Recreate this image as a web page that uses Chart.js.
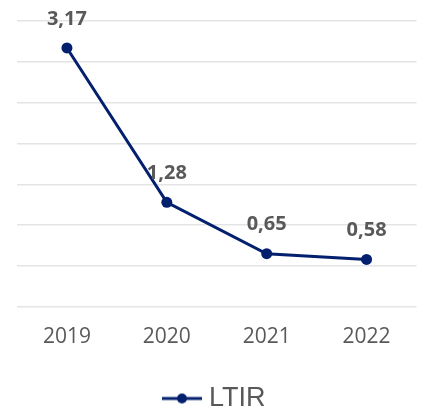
<!DOCTYPE html>
<html>
<head>
<meta charset="utf-8">
<script src="https://cdn.jsdelivr.net/npm/chart.js@4"></script>
<style>
  html, body { margin: 0; padding: 0; background: #ffffff; }
  #wrap { width: 422px; height: 408px; }
</style>
</head>
<body>
<div id="wrap"><canvas id="c" width="422" height="408"></canvas></div>
<script>
const years = ['2019', '2020', '2021', '2022'];
const ltir = [3.17, 1.28, 0.65, 0.58];
const seriesName = 'LTIR';

const navy = '#03206e';
const grey = '#595959';

// legend marker: short line with a dot in the middle
function legendMarker() {
  const cv = document.createElement('canvas');
  cv.width = 40; cv.height = 12;
  const g = cv.getContext('2d');
  g.strokeStyle = navy; g.lineWidth = 3;
  g.beginPath(); g.moveTo(0, 6); g.lineTo(40, 6); g.stroke();
  g.fillStyle = navy;
  g.beginPath(); g.arc(20, 6, 5, 0, Math.PI * 2); g.fill();
  return cv;
}

// value labels above each point, decimal comma
const valueLabels = {
  id: 'valueLabels',
  afterDatasetsDraw(chart) {
    const ctx = chart.ctx;
    const meta = chart.getDatasetMeta(0);
    ctx.save();
    ctx.font = 'bold 20px "Open Sans"';
    ctx.fillStyle = grey;
    ctx.textAlign = 'center';
    ctx.textBaseline = 'middle';
    meta.data.forEach((pt, i) => {
      const txt = ltir[i].toFixed(2).replace('.', ',');
      ctx.fillText(txt, pt.x, pt.y - 29);
    });
    ctx.restore();
  }
};

new Chart(document.getElementById('c'), {
  type: 'line',
  data: {
    labels: years,
    datasets: [{
      label: seriesName,
      data: ltir,
      borderColor: navy,
      backgroundColor: navy,
      borderWidth: 3,
      pointRadius: 5.5,
      pointHoverRadius: 5.5,
      pointBackgroundColor: navy,
      pointBorderWidth: 0,
      tension: 0,
      pointStyle: 'circle'
    }]
  },
  options: {
    responsive: false,
    animation: false,
    layout: { padding: { left: 17, right: 5, top: 21, bottom: -14 } },
    scales: {
      x: {
        offset: true,
        grid: { display: false },
        border: { display: false },
        ticks: {
          color: grey,
          font: { family: '"Open Sans"', size: 21 },
          padding: 10
        }
      },
      y: {
        min: 0,
        max: 3.5,
        ticks: { display: false, stepSize: 0.5 },
        border: { display: false },
        grid: { color: '#e4e4e4', lineWidth: 1.5, drawTicks: false }
      }
    },
    plugins: {
      legend: {
        position: 'bottom',
        labels: {
          color: grey,
          font: { family: '"Liberation Sans", Arial', size: 27 },
          padding: 25,
          usePointStyle: true,
          generateLabels(chart) {
            return [{
              text: seriesName,
              fillStyle: navy,
              strokeStyle: navy,
              lineWidth: 0,
              pointStyle: legendMarker(),
              fontColor: grey,
              datasetIndex: 0,
              hidden: false
            }];
          }
        }
      },
      tooltip: { enabled: false }
    }
  },
  plugins: [valueLabels]
});
</script>
</body>
</html>
